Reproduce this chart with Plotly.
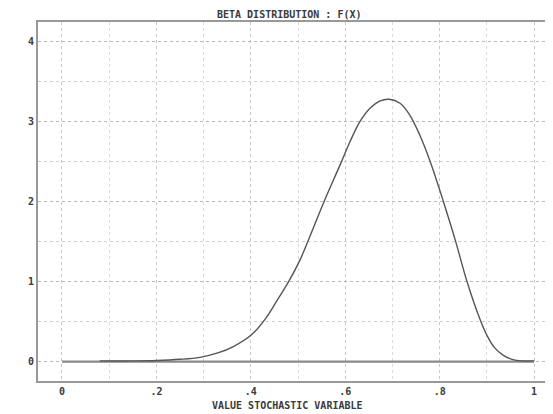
import plotly.graph_objects as go

# Values
x_vals = [0.08, 0.15, 0.20, 0.25, 0.292, 0.33, 0.363, 0.402, 0.43, 0.455, 0.48,
          0.504, 0.522, 0.555, 0.589, 0.61, 0.631, 0.653, 0.674, 0.693, 0.716,
          0.737, 0.758, 0.78, 0.808, 0.833, 0.858, 0.886, 0.90, 0.917, 0.935,
          0.953, 0.975, 1.0]
f_vals = [0.01, 0.01, 0.015, 0.03, 0.055, 0.11, 0.19, 0.34, 0.53, 0.76, 1.0,
          1.27, 1.52, 2.0, 2.46, 2.75, 3.0, 3.17, 3.26, 3.28, 3.23,
          3.08, 2.83, 2.5, 2.0, 1.52, 1.0, 0.52, 0.33, 0.17, 0.08,
          0.03, 0.01, 0.01]
base_x = [0, 1]
base_y = [0, 0]

x_ticks = [0, 0.2, 0.4, 0.6, 0.8, 1]
x_tick_text = ["0", ".2", ".4", ".6", ".8", "1"]
y_ticks = [0, 1, 2, 3, 4]
y_tick_text = ["0", "1", "2", "3", "4"]

title_text = "BETA DISTRIBUTION : F(X)"
xlabel_text = "VALUE STOCHASTIC VARIABLE"

FONT = "DejaVu Sans Mono"
TXT = "#3a3a3a"

fig = go.Figure()
fig.add_trace(go.Scatter(x=base_x, y=base_y, mode="lines",
                         line=dict(color="#8a8a8a", width=2.2), hoverinfo="skip"))
fig.add_trace(go.Scatter(x=x_vals, y=f_vals, mode="lines",
                         line=dict(color="#555555", width=1.4, shape="spline", smoothing=1.0)))

# page body has an 8px default margin, so the figure is 8px smaller
fig.update_layout(
    width=545, height=406,
    margin=dict(l=30, r=0, t=14, b=33),
    paper_bgcolor="white", plot_bgcolor="white",
    showlegend=False,
    font=dict(family=FONT, size=10, color=TXT),
    annotations=[
        dict(text="<b>" + title_text + "</b>", xref="paper", yref="paper",
             x=(289 - 38) / 515, y=1, yshift=8, showarrow=False,
             xanchor="center", yanchor="middle",
             font=dict(family=FONT, size=10, color=TXT)),
        dict(text="<b>" + xlabel_text + "</b>", xref="paper", yref="paper",
             x=(287 - 38) / 515, y=0, yshift=-24, showarrow=False,
             xanchor="center", yanchor="middle",
             font=dict(family=FONT, size=10, color=TXT)),
    ],
)

fig.update_xaxes(
    range=[-0.0508, 1.040],
    tickvals=x_ticks, ticktext=x_tick_text,
    tickfont=dict(family=FONT, size=10, color=TXT, weight="bold"),
    showline=True, linecolor="#999999", linewidth=2, mirror=True,
    ticks="", ticklen=0,
    showgrid=True, gridcolor="#c8c8c8", griddash="dot", gridwidth=1,
    minor=dict(dtick=0.1, tick0=0, showgrid=True, gridcolor="#dcdcdc",
               griddash="dot", gridwidth=1),
    zeroline=False,
)
fig.update_yaxes(
    range=[-0.241, 4.246],
    tickvals=y_ticks, ticktext=y_tick_text,
    tickfont=dict(family=FONT, size=10, color=TXT, weight="bold"),
    showline=True, linecolor="#999999", linewidth=2, mirror=False,
    ticks="", ticklen=0,
    showgrid=True, gridcolor="#b8b8b8", griddash="dot", gridwidth=1,
    minor=dict(dtick=0.5, tick0=0, showgrid=True, gridcolor="#d0d0d0",
               griddash="dot", gridwidth=1),
    zeroline=False,
)

fig.write_html("out.html")
